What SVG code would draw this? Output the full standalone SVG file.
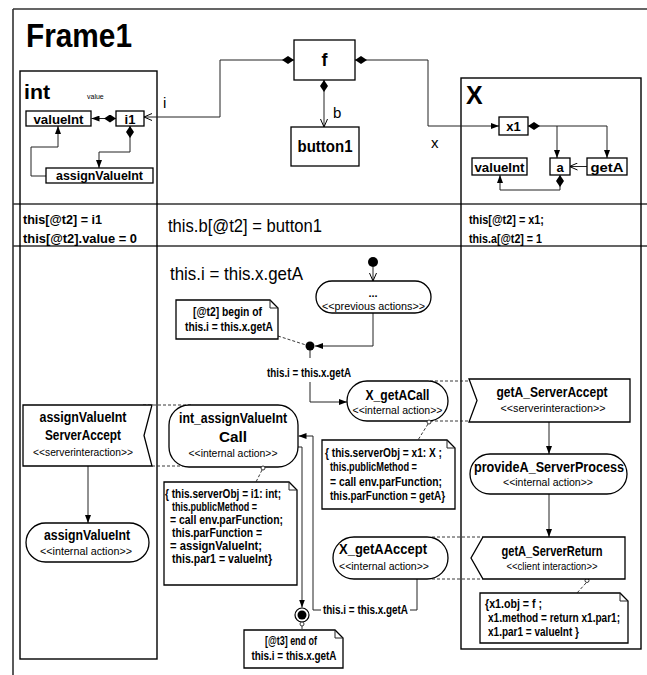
<svg xmlns="http://www.w3.org/2000/svg" width="647" height="675" viewBox="0 0 647 675">
<style>
  .box { fill: #fff; stroke: #000; stroke-width: 1.3; }
  .cont { fill: none; stroke: #000; stroke-width: 1.4; }
  .rule { fill: none; stroke: #333; stroke-width: 1.6; }
  .edge { fill: none; stroke: #222; stroke-width: 1; }
  .dash { fill: none; stroke: #222; stroke-width: 0.9; stroke-dasharray: 3 2; }
  .pin { fill: #fff; stroke: #222; stroke-width: 0.9; }
  text { font-family: "Liberation Sans", Arial, sans-serif; fill: #000; }
  .b { font-weight: bold; }
  .c { text-anchor: middle; }
  .n { font-size: 12px; font-weight: bold; }
</style>
<defs>
  <marker id="af" viewBox="0 0 8 6" refX="8" refY="3" markerWidth="8" markerHeight="6" markerUnits="userSpaceOnUse" orient="auto">
    <path d="M0,0 L8,3 L0,6 Z" fill="#000"/>
  </marker>
  <marker id="ao" viewBox="0 0 9 8" refX="8.5" refY="4" markerWidth="9" markerHeight="8" markerUnits="userSpaceOnUse" orient="auto">
    <path d="M0.5,0.5 L8.5,4 L0.5,7.5" fill="none" stroke="#000" stroke-width="1"/>
  </marker>
  <marker id="dm" viewBox="0 0 12 8" refX="0" refY="4" markerWidth="12" markerHeight="8" markerUnits="userSpaceOnUse" orient="auto">
    <path d="M0,4 L6,0 L12,4 L6,8 Z" fill="#000"/>
  </marker>
</defs>

<!-- outer frame, swimlane containers and the state row -->
<g id="frame">
  <path class="rule" d="M13,9 H647 M13,9 V675"/>
  <text class="b" x="26" y="47" font-size="33" textLength="106" lengthAdjust="spacingAndGlyphs">Frame1</text>
  <path class="rule" d="M13,204 H647 M13,246 H647"/>
</g>
<g id="int">
  <rect class="cont" x="20" y="71" width="137" height="588"/>
  <text class="b" x="24" y="99" font-size="20" textLength="26" lengthAdjust="spacingAndGlyphs">int</text>
  <text x="87" y="99" font-size="7" fill="#333">value</text>
</g>
<g id="X">
  <rect class="cont" x="461" y="78" width="180" height="571"/>
  <text class="b" x="466" y="104" font-size="25">X</text>
</g>

<!-- connectors -->
<g id="connectors">
  <!-- object structure -->
  <path class="edge" d="M116,118.5 H91.5" marker-start="url(#dm)" marker-end="url(#af)"/>
  <path class="edge" d="M130,126 V152 H99 V168" marker-start="url(#dm)" marker-end="url(#af)"/>
  <path class="edge" d="M46,176 H31 V147 H58 V126" marker-end="url(#af)"/>
  <path class="edge" d="M294,60 H220 V117 H144" marker-start="url(#dm)" marker-end="url(#ao)"/>
  <path class="edge" d="M355,60 H428 V126 H499" marker-start="url(#dm)" marker-end="url(#af)"/>
  <path class="edge" d="M324,80 V127" marker-start="url(#dm)" marker-end="url(#ao)"/>
  <path class="edge" d="M528,126 H557 V158" marker-start="url(#dm)" marker-end="url(#af)"/>
  <path class="edge" d="M557,126 H607 V158" marker-end="url(#af)"/>
  <path class="edge" d="M587,166.5 H569.5" marker-end="url(#ao)"/>
  <path class="edge" d="M560,175 V190 H500 V175" marker-start="url(#dm)" marker-end="url(#af)"/>
  <text x="163" y="108" font-size="15">i</text>
  <text x="333" y="118" font-size="15">b</text>
  <text x="431" y="148" font-size="15">x</text>

  <!-- activity flow -->
  <path class="edge" d="M373,267 V281" marker-end="url(#ao)"/>
  <path class="edge" d="M373,313 V346 H315" marker-end="url(#af)"/>
  <path class="edge" d="M310,350 V358" stroke-width="2"/>
  <path class="edge" d="M310,382 V402 H347" marker-end="url(#af)"/>
  <path class="dash" d="M278,336 L306,345"/>
  <text class="n c" x="309" y="377" textLength="84" lengthAdjust="spacingAndGlyphs">this.i = this.x.getA</text>

  <path class="dash" d="M430,381 H470 M430,421 H469"/>
  <path class="edge" d="M549,422 V454" marker-end="url(#af)"/>
  <path class="edge" d="M549,494 V537" marker-end="url(#af)"/>
  <path class="dash" d="M432,537 H483 M432,579 H483"/>
  <path class="dash" d="M586,583 L577,593"/>
  <circle class="pin" cx="587" cy="580.5" r="2"/>

  <path class="edge" d="M417,579 V610 H410 M321,610 H313 V436 H298.5" marker-end="url(#af)"/>
  <text class="n" x="323" y="614" textLength="85" lengthAdjust="spacingAndGlyphs">this.i = this.x.getA</text>
  <path class="edge" d="M298,447 H302 V607.5" marker-end="url(#af)"/>
  <path class="dash" d="M302,626 V630"/>
  <path class="dash" d="M262,470 L256,482"/>
  <path class="dash" d="M428,424 L418,440"/>

  <path class="edge" d="M88,466 V523" marker-end="url(#af)"/>
  <path class="dash" d="M143,405 H192 M152,466 H192"/>
</g>

<!-- object nodes -->
<g id="valueInt1">
  <rect class="box" x="26" y="111" width="65" height="15"/>
  <text class="b c" x="58.5" y="123.5" font-size="13" textLength="50" lengthAdjust="spacingAndGlyphs">valueInt</text>
</g>
<g id="i1">
  <rect class="box" x="116" y="111" width="28" height="15"/>
  <text class="b c" x="130" y="123.5" font-size="13">i1</text>
</g>
<g id="assignValueInt1">
  <rect class="box" x="46" y="168" width="107" height="15"/>
  <text class="b c" x="99.5" y="180" font-size="13" textLength="87" lengthAdjust="spacingAndGlyphs">assignValueInt</text>
</g>
<g id="f">
  <rect class="box" x="294" y="40" width="61" height="40"/>
  <text class="b c" x="324.5" y="66" font-size="18">f</text>
</g>
<g id="button1">
  <rect class="box" x="291" y="127" width="68" height="39"/>
  <text class="b c" x="325" y="152" font-size="16" textLength="55" lengthAdjust="spacingAndGlyphs">button1</text>
</g>
<g id="x1">
  <rect class="box" x="499" y="117" width="29" height="18"/>
  <text class="b c" x="513.5" y="131" font-size="13">x1</text>
</g>
<g id="valueInt2">
  <rect class="box" x="472" y="158" width="55" height="17"/>
  <text class="b c" x="499.5" y="171.5" font-size="13" textLength="50" lengthAdjust="spacingAndGlyphs">valueInt</text>
</g>
<g id="a">
  <rect class="box" x="550" y="158" width="20" height="17"/>
  <text class="b c" x="560" y="171.5" font-size="13">a</text>
</g>
<g id="getA">
  <rect class="box" x="587" y="158" width="40" height="17"/>
  <text class="b c" x="607" y="171.5" font-size="13" textLength="33" lengthAdjust="spacingAndGlyphs">getA</text>
</g>

<!-- state row -->
<g id="state-int">
  <text class="b" x="23" y="224" font-size="12.5" textLength="79" lengthAdjust="spacingAndGlyphs">this[@t2] = i1</text>
  <text class="b" x="23" y="243" font-size="12.5" textLength="114" lengthAdjust="spacingAndGlyphs">this[@t2].value = 0</text>
</g>
<g id="state-f">
  <text x="168" y="232" font-size="18" textLength="154" lengthAdjust="spacingAndGlyphs">this.b[@t2] = button1</text>
</g>
<g id="state-X">
  <text class="b" x="469" y="224" font-size="12.5" textLength="75" lengthAdjust="spacingAndGlyphs">this[@t2] = x1;</text>
  <text class="b" x="469" y="243" font-size="12.5" textLength="73" lengthAdjust="spacingAndGlyphs">this.a[@t2] = 1</text>
</g>

<!-- activity nodes -->
<g id="activity-title">
  <text x="170" y="280" font-size="19" textLength="133" lengthAdjust="spacingAndGlyphs">this.i = this.x.getA</text>
</g>
<g id="initial">
  <circle cx="373" cy="262" r="5" fill="#000"/>
</g>
<g id="previous-actions">
  <rect class="box" x="316" y="281" width="115" height="32" rx="16"/>
  <text class="b c" x="373" y="297" font-size="11">...</text>
  <text class="c" x="373.5" y="310" font-size="10.5" textLength="103" lengthAdjust="spacingAndGlyphs">&lt;&lt;previous actions&gt;&gt;</text>
</g>
<g id="note-begin">
  <path class="box" d="M176,300 H270 L278,308 V339 H176 Z"/>
  <path class="edge" d="M270,300 V308 H278"/>
  <text class="n c" x="227.5" y="316" textLength="69" lengthAdjust="spacingAndGlyphs">[@t2] begin of</text>
  <text class="n c" x="229" y="331" textLength="88" lengthAdjust="spacingAndGlyphs">this.i = this.x.getA</text>
</g>
<g id="junction">
  <circle cx="310" cy="346" r="4.5" fill="#000"/>
</g>
<g id="X_getACall">
  <rect class="box" x="347" y="381" width="101" height="40" rx="20"/>
  <text class="b c" x="397.5" y="400" font-size="15" textLength="64" lengthAdjust="spacingAndGlyphs">X_getACall</text>
  <text class="c" x="397.5" y="414" font-size="10.5" textLength="90" lengthAdjust="spacingAndGlyphs">&lt;&lt;internal action&gt;&gt;</text>
  <circle class="pin" cx="429" cy="422" r="2"/>
</g>
<g id="note-call">
  <path class="box" d="M322,440 H447 L455,448 V509 H322 Z"/>
  <path class="edge" d="M447,440 V448 H455"/>
  <text class="n" x="325" y="457" textLength="117" lengthAdjust="spacingAndGlyphs">{ this.serverObj = x1: X ;</text>
  <text class="n" x="330" y="471" textLength="87" lengthAdjust="spacingAndGlyphs">this.publicMethod =</text>
  <text class="n" x="330" y="486" textLength="112" lengthAdjust="spacingAndGlyphs">= call env.parFunction;</text>
  <text class="n" x="330" y="500" textLength="115" lengthAdjust="spacingAndGlyphs">this.parFunction = getA}</text>
</g>
<g id="getA_ServerAccept">
  <path class="box" d="M469,379 H630 V422 H469 L477,400.5 Z"/>
  <text class="b c" x="552" y="397" font-size="14" textLength="111" lengthAdjust="spacingAndGlyphs">getA_ServerAccept</text>
  <text class="c" x="553" y="412" font-size="10.5" textLength="105" lengthAdjust="spacingAndGlyphs">&lt;&lt;serverinteraction&gt;&gt;</text>
</g>
<g id="provideA_ServerProcess">
  <rect class="box" x="470" y="454" width="157" height="40" rx="20"/>
  <text class="b c" x="549" y="472" font-size="14" textLength="150" lengthAdjust="spacingAndGlyphs">provideA_ServerProcess</text>
  <text class="c" x="548" y="486" font-size="10.5" textLength="90" lengthAdjust="spacingAndGlyphs">&lt;&lt;internal action&gt;&gt;</text>
</g>
<g id="getA_ServerReturn">
  <path class="box" d="M483,537 H625 V579 H483 L471,558 Z"/>
  <text class="b c" x="552" y="556" font-size="14" textLength="101" lengthAdjust="spacingAndGlyphs">getA_ServerReturn</text>
  <text class="c" x="552" y="570" font-size="10.5" textLength="91" lengthAdjust="spacingAndGlyphs">&lt;&lt;client interaction&gt;&gt;</text>
</g>
<g id="note-return">
  <path class="box" d="M480,593 H620 L628,601 V643 H480 Z"/>
  <path class="edge" d="M620,593 V601 H628"/>
  <text class="n" x="485" y="608" textLength="57" lengthAdjust="spacingAndGlyphs">{x1.obj = f ;</text>
  <text class="n" x="488" y="622" textLength="132" lengthAdjust="spacingAndGlyphs">x1.method = return x1.par1;</text>
  <text class="n" x="488" y="636" textLength="91" lengthAdjust="spacingAndGlyphs">x1.par1 = valueInt }</text>
</g>
<g id="X_getAAccept">
  <rect class="box" x="333" y="537" width="115" height="42" rx="21"/>
  <text class="b c" x="383" y="554" font-size="15" textLength="88" lengthAdjust="spacingAndGlyphs">X_getAAccept</text>
  <text class="c" x="384" y="570" font-size="10.5" textLength="90" lengthAdjust="spacingAndGlyphs">&lt;&lt;internal action&gt;&gt;</text>
</g>
<g id="int_assignValueIntCall">
  <rect class="box" x="169" y="405" width="129" height="62" rx="20"/>
  <text class="b c" x="233" y="423" font-size="15" textLength="108" lengthAdjust="spacingAndGlyphs">int_assignValueInt</text>
  <text class="b c" x="233" y="442" font-size="15" textLength="28" lengthAdjust="spacingAndGlyphs">Call</text>
  <text class="c" x="233" y="457" font-size="10.5" textLength="89" lengthAdjust="spacingAndGlyphs">&lt;&lt;internal action&gt;&gt;</text>
  <circle class="pin" cx="263" cy="468" r="2"/>
</g>
<g id="note-int">
  <path class="box" d="M164,482 H289 L297,490 V585 H164 Z"/>
  <path class="edge" d="M289,482 V490 H297"/>
  <text class="n" x="165" y="498" textLength="116" lengthAdjust="spacingAndGlyphs">{ this.serverObj = i1: int;</text>
  <text class="n" x="172" y="511" textLength="85" lengthAdjust="spacingAndGlyphs">this.publicMethod =</text>
  <text class="n" x="170" y="524" textLength="113" lengthAdjust="spacingAndGlyphs">= call env.parFunction;</text>
  <text class="n" x="172" y="537" textLength="90" lengthAdjust="spacingAndGlyphs">this.parFunction =</text>
  <text class="n" x="170" y="550" textLength="92" lengthAdjust="spacingAndGlyphs">= assignValueInt;</text>
  <text class="n" x="172" y="563" textLength="100" lengthAdjust="spacingAndGlyphs">this.par1 = valueInt}</text>
</g>
<g id="final">
  <circle cx="302" cy="615" r="7" fill="#fff" stroke="#000" stroke-width="1.2"/>
  <circle cx="302" cy="615" r="4.5" fill="#000"/>
  <circle class="pin" cx="302" cy="624" r="2"/>
</g>
<g id="note-end">
  <path class="box" d="M244,630 H335 L343,638 V668 H244 Z"/>
  <path class="edge" d="M335,630 V638 H343"/>
  <text class="n c" x="291" y="645" textLength="52" lengthAdjust="spacingAndGlyphs">[@t3] end of</text>
  <text class="n c" x="294" y="660" textLength="85" lengthAdjust="spacingAndGlyphs">this.i = this.x.getA</text>
</g>
<g id="assignValueInt-ServerAccept">
  <path class="box" d="M23,405 H152 L144,435.5 L152,466 H23 Z"/>
  <text class="b c" x="83" y="422" font-size="14" textLength="87" lengthAdjust="spacingAndGlyphs">assignValueInt</text>
  <text class="b c" x="83" y="440" font-size="14" textLength="76" lengthAdjust="spacingAndGlyphs">ServerAccept</text>
  <text class="c" x="83" y="456" font-size="10.5" textLength="100" lengthAdjust="spacingAndGlyphs">&lt;&lt;serverinteraction&gt;&gt;</text>
</g>
<g id="assignValueInt2">
  <rect class="box" x="26" y="523" width="123" height="39" rx="19.5"/>
  <text class="b c" x="87" y="540" font-size="15" textLength="86" lengthAdjust="spacingAndGlyphs">assignValueInt</text>
  <text class="c" x="86" y="555" font-size="10.5" textLength="92" lengthAdjust="spacingAndGlyphs">&lt;&lt;internal action&gt;&gt;</text>
</g>
</svg>
